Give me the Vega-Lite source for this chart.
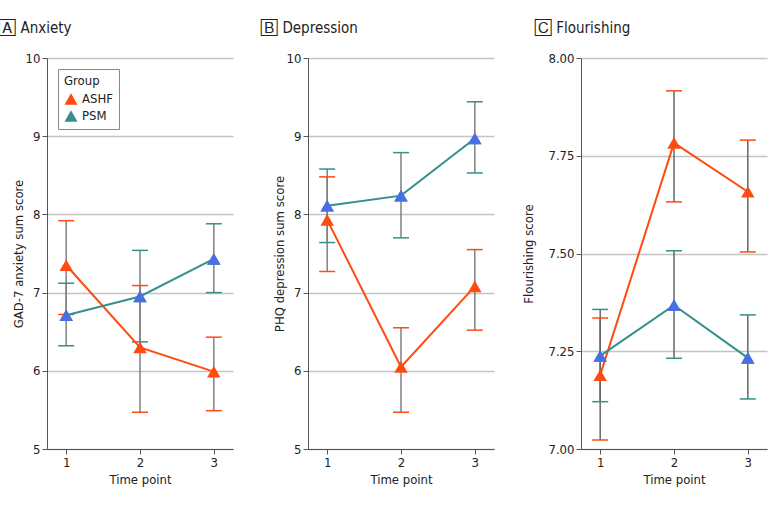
{
  "$schema": "https://vega.github.io/schema/vega-lite/v6.json",
  "padding": {"left": -1, "top": 21, "right": 5, "bottom": 5},
  "config": {
    "font": "DejaVu Sans Condensed, Roboto Condensed, Roboto, sans-serif",
    "view": {"stroke": null},
    "axis": {"labelFontSize": 13, "labelColor": "#222", "titleFontSize": 13, "titleFontWeight": "normal", "titleColor": "#222", "domainColor": "#555", "tickColor": "#555", "gridColor": "#c4c4c4", "gridWidth": 1.5, "tickSize": 5, "labelPadding": 2},
    "legend": {"strokeColor": "#888", "padding": 6, "titleFontWeight": "normal", "titleFontSize": 13, "titleColor": "#222", "labelFontSize": 13, "labelColor": "#222", "symbolSize": 170, "symbolType": "triangle-up", "symbolOpacity": 1, "orient": "top-left", "offset": 11, "rowPadding": 3, "titlePadding": 4, "symbolStrokeWidth": 0},
    "title": {"anchor": "start", "fontSize": 15, "fontWeight": "normal", "frame": "bounds", "color": "#222", "offset": 16}
  },
  "datasets": {
    "d": [
      {"panel": "A", "group": "ASHF", "time": 1, "mean": 7.35, "lo": 6.72, "hi": 7.92},
      {"panel": "A", "group": "ASHF", "time": 2, "mean": 6.30, "lo": 5.47, "hi": 7.09},
      {"panel": "A", "group": "ASHF", "time": 3, "mean": 5.99, "lo": 5.49, "hi": 6.43},
      {"panel": "A", "group": "PSM", "time": 1, "mean": 6.71, "lo": 6.32, "hi": 7.12},
      {"panel": "A", "group": "PSM", "time": 2, "mean": 6.95, "lo": 6.37, "hi": 7.54},
      {"panel": "A", "group": "PSM", "time": 3, "mean": 7.43, "lo": 7.00, "hi": 7.88},
      {"panel": "B", "group": "ASHF", "time": 1, "mean": 7.93, "lo": 7.27, "hi": 8.48},
      {"panel": "B", "group": "ASHF", "time": 2, "mean": 6.05, "lo": 5.47, "hi": 6.55},
      {"panel": "B", "group": "ASHF", "time": 3, "mean": 7.08, "lo": 6.52, "hi": 7.55},
      {"panel": "B", "group": "PSM", "time": 1, "mean": 8.11, "lo": 7.64, "hi": 8.58},
      {"panel": "B", "group": "PSM", "time": 2, "mean": 8.24, "lo": 7.70, "hi": 8.79},
      {"panel": "B", "group": "PSM", "time": 3, "mean": 8.97, "lo": 8.53, "hi": 9.44},
      {"panel": "C", "group": "ASHF", "time": 1, "mean": 7.189, "lo": 7.023, "hi": 7.335},
      {"panel": "C", "group": "ASHF", "time": 2, "mean": 7.783, "lo": 7.632, "hi": 7.916},
      {"panel": "C", "group": "ASHF", "time": 3, "mean": 7.658, "lo": 7.504, "hi": 7.790},
      {"panel": "C", "group": "PSM", "time": 1, "mean": 7.238, "lo": 7.121, "hi": 7.357},
      {"panel": "C", "group": "PSM", "time": 2, "mean": 7.368, "lo": 7.232, "hi": 7.507},
      {"panel": "C", "group": "PSM", "time": 3, "mean": 7.233, "lo": 7.128, "hi": 7.343}
    ]
  },
  "data": {"name": "d"},
  "spacing": 28,
  "resolve": {"scale": {"x": "independent", "y": "independent", "color": "independent"}, "legend": {"color": "independent"}},
  "hconcat": [
    {
      "width": 186, "height": 391,
      "title": {"text": "🄰 Anxiety", "dx": -13},
      "transform": [{"filter": "datum.panel === 'A'"}],
      "layer": [
        {"mark": {"type": "rule", "color": "#808080", "strokeWidth": 1.5},
         "encoding": {"x": {"field": "time", "type": "quantitative", "scale": {"domain": [0.74, 3.26], "nice": false, "zero": false}, "axis": {"values": [1, 2, 3], "format": "d", "title": "Time point", "grid": false}},
                      "y": {"field": "lo", "type": "quantitative", "scale": {"domain": [5, 10], "nice": false, "zero": false}, "axis": {"values": [5, 6, 7, 8, 9, 10], "format": "d", "title": "GAD-7 anxiety sum score", "grid": true, "titlePadding": 0}},
                      "y2": {"field": "hi"}}},
        {"mark": {"type": "tick", "orient": "horizontal", "size": 16, "thickness": 1.5, "opacity": 1},
         "encoding": {"x": {"field": "time", "type": "quantitative"}, "y": {"field": "lo", "type": "quantitative"},
                      "color": {"field": "group", "type": "nominal", "title": "Group", "scale": {"domain": ["ASHF", "PSM"], "range": ["#ff4a12", "#35908a"]}, "legend": {"symbolType": "triangle-up"}}}},
        {"mark": {"type": "tick", "orient": "horizontal", "size": 16, "thickness": 1.5, "opacity": 1},
         "encoding": {"x": {"field": "time", "type": "quantitative"}, "y": {"field": "hi", "type": "quantitative"},
                      "color": {"field": "group", "type": "nominal"}}},
        {"mark": {"type": "line", "strokeWidth": 2},
         "encoding": {"x": {"field": "time", "type": "quantitative"}, "y": {"field": "mean", "type": "quantitative"},
                      "color": {"field": "group", "type": "nominal"}}},
        {"mark": {"type": "point", "shape": "triangle-up", "filled": true, "size": 180, "opacity": 1},
         "encoding": {"x": {"field": "time", "type": "quantitative"}, "y": {"field": "mean", "type": "quantitative"},
                      "color": {"field": "group", "type": "nominal"}}},
        {"transform": [{"filter": "datum.group === 'PSM'"}],
         "mark": {"type": "point", "shape": "triangle-up", "filled": true, "size": 180, "opacity": 1, "color": "#4a6ee8"},
         "encoding": {"x": {"field": "time", "type": "quantitative"}, "y": {"field": "mean", "type": "quantitative"}}}
      ]
    },
    {
      "width": 186, "height": 391,
      "title": {"text": "🄱 Depression", "dx": -12},
      "transform": [{"filter": "datum.panel === 'B'"}],
      "layer": [
        {"mark": {"type": "rule", "color": "#808080", "strokeWidth": 1.5},
         "encoding": {"x": {"field": "time", "type": "quantitative", "scale": {"domain": [0.74, 3.26], "nice": false, "zero": false}, "axis": {"values": [1, 2, 3], "format": "d", "title": "Time point", "grid": false}},
                      "y": {"field": "lo", "type": "quantitative", "scale": {"domain": [5, 10], "nice": false, "zero": false}, "axis": {"values": [5, 6, 7, 8, 9, 10], "format": "d", "title": "PHQ depression sum score", "grid": true, "titlePadding": 0}},
                      "y2": {"field": "hi"}}},
        {"mark": {"type": "tick", "orient": "horizontal", "size": 16, "thickness": 1.5, "opacity": 1},
         "encoding": {"x": {"field": "time", "type": "quantitative"}, "y": {"field": "lo", "type": "quantitative"},
                      "color": {"field": "group", "type": "nominal", "scale": {"domain": ["ASHF", "PSM"], "range": ["#ff4a12", "#35908a"]}, "legend": null}}},
        {"mark": {"type": "tick", "orient": "horizontal", "size": 16, "thickness": 1.5, "opacity": 1},
         "encoding": {"x": {"field": "time", "type": "quantitative"}, "y": {"field": "hi", "type": "quantitative"},
                      "color": {"field": "group", "type": "nominal", "legend": null}}},
        {"mark": {"type": "line", "strokeWidth": 2},
         "encoding": {"x": {"field": "time", "type": "quantitative"}, "y": {"field": "mean", "type": "quantitative"},
                      "color": {"field": "group", "type": "nominal", "legend": null}}},
        {"mark": {"type": "point", "shape": "triangle-up", "filled": true, "size": 180, "opacity": 1},
         "encoding": {"x": {"field": "time", "type": "quantitative"}, "y": {"field": "mean", "type": "quantitative"},
                      "color": {"field": "group", "type": "nominal", "legend": null}}},
        {"transform": [{"filter": "datum.group === 'PSM'"}],
         "mark": {"type": "point", "shape": "triangle-up", "filled": true, "size": 180, "opacity": 1, "color": "#4a6ee8"},
         "encoding": {"x": {"field": "time", "type": "quantitative"}, "y": {"field": "mean", "type": "quantitative"}}}
      ]
    },
    {
      "width": 186, "height": 391,
      "title": {"text": "🄲 Flourishing", "dx": 12},
      "transform": [{"filter": "datum.panel === 'C'"}],
      "layer": [
        {"mark": {"type": "rule", "color": "#666666", "strokeWidth": 1.5},
         "encoding": {"x": {"field": "time", "type": "quantitative", "scale": {"domain": [0.74, 3.26], "nice": false, "zero": false}, "axis": {"values": [1, 2, 3], "format": "d", "title": "Time point", "grid": false}},
                      "y": {"field": "lo", "type": "quantitative", "scale": {"domain": [7, 8], "nice": false, "zero": false}, "axis": {"values": [7, 7.25, 7.5, 7.75, 8], "format": ".2f", "title": "Flourishing score", "grid": true, "titlePadding": 12}},
                      "y2": {"field": "hi"}}},
        {"mark": {"type": "tick", "orient": "horizontal", "size": 16, "thickness": 1.5, "opacity": 1},
         "encoding": {"x": {"field": "time", "type": "quantitative"}, "y": {"field": "lo", "type": "quantitative"},
                      "color": {"field": "group", "type": "nominal", "scale": {"domain": ["ASHF", "PSM"], "range": ["#ff4a12", "#35908a"]}, "legend": null}}},
        {"mark": {"type": "tick", "orient": "horizontal", "size": 16, "thickness": 1.5, "opacity": 1},
         "encoding": {"x": {"field": "time", "type": "quantitative"}, "y": {"field": "hi", "type": "quantitative"},
                      "color": {"field": "group", "type": "nominal", "legend": null}}},
        {"mark": {"type": "line", "strokeWidth": 2},
         "encoding": {"x": {"field": "time", "type": "quantitative"}, "y": {"field": "mean", "type": "quantitative"},
                      "color": {"field": "group", "type": "nominal", "legend": null}}},
        {"mark": {"type": "point", "shape": "triangle-up", "filled": true, "size": 180, "opacity": 1},
         "encoding": {"x": {"field": "time", "type": "quantitative"}, "y": {"field": "mean", "type": "quantitative"},
                      "color": {"field": "group", "type": "nominal", "legend": null}}},
        {"transform": [{"filter": "datum.group === 'PSM'"}],
         "mark": {"type": "point", "shape": "triangle-up", "filled": true, "size": 180, "opacity": 1, "color": "#4a6ee8"},
         "encoding": {"x": {"field": "time", "type": "quantitative"}, "y": {"field": "mean", "type": "quantitative"}}}
      ]
    }
  ]
}
